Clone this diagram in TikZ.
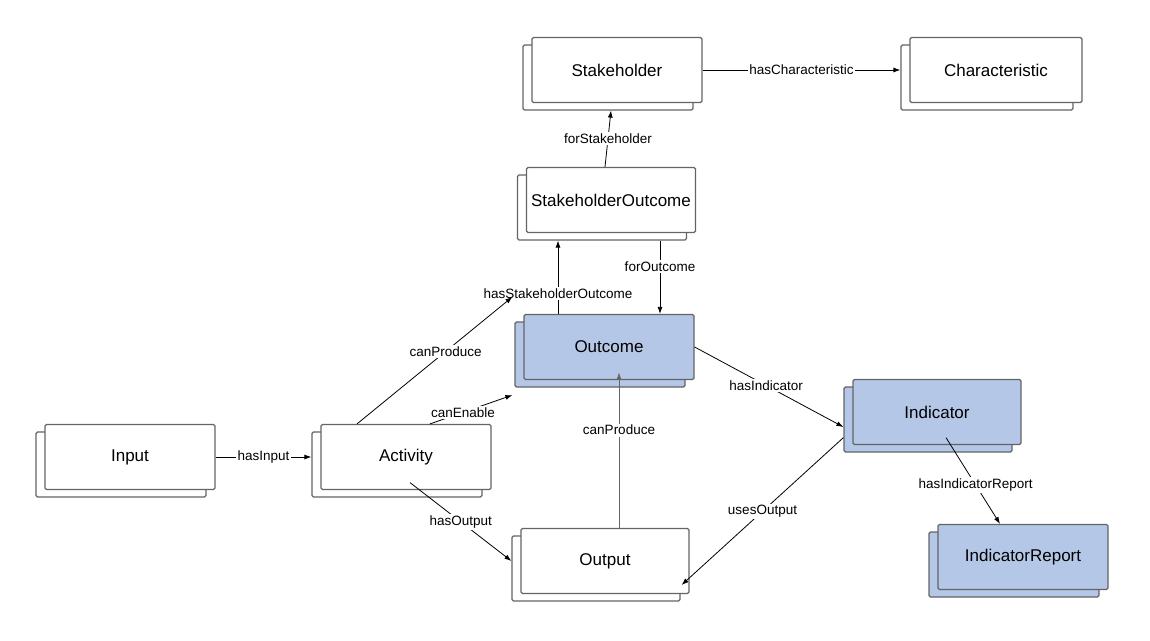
\documentclass[tikz,border=0pt]{standalone}
\usepackage{fontspec}
\setmainfont{Liberation Sans}
\definecolor{BoxBlue}{RGB}{180, 199, 231}
\definecolor{BoxLine}{RGB}{100, 100, 100}
\usetikzlibrary{arrows.meta, shadows, calc}

\tikzset{
  cls/.style={draw=BoxLine, line width=1.2pt, fill=white, rounded corners=1.5pt,
    minimum width=170pt, minimum height=65pt, font=\fontsize{17}{20}\selectfont,
    copy shadow={shadow xshift=-9pt, shadow yshift=-7.5pt}},
  core/.style={cls, fill=BoxBlue},
  rel/.style={-{Latex[length=7pt, width=5pt]}, line width=0.8pt},
  lbl/.style={fill=white, inner sep=1.5pt, font=\fontsize{13.5}{16}\selectfont}
}

\begin{document}
\begin{tikzpicture}[x=1pt, y=-1pt]
  \useasboundingbox (0,0) rectangle (1150,640);

  % Classes
  \node[cls] (stake) at (617,70) {Stakeholder};
  \node[cls, minimum width=172pt] (charac) at (996,70) {Characteristic};
  \node[cls, minimum width=169pt] (stout) at (611,200) {StakeholderOutcome};
  \node[core] (outc) at (609,347) {Outcome};
  \node[core, minimum width=168pt] (indic) at (937,412) {Indicator};
  \node[cls] (inp) at (130,457) {Input};
  \node[cls] (act) at (406,457) {Activity};
  \node[cls, minimum width=168pt] (outp) at (605,561) {Output};
  \node[core] (report) at (1023,557) {IndicatorReport};

  % Relations
  \draw[rel] (stake.east) -- ([xshift=-9pt]charac.west)
    node[lbl, midway] {hasCharacteristic};
  \draw[rel] ([xshift=-6pt]stout.north) -- ([xshift=-6pt, yshift=-7.5pt]stake.south)
    node[lbl, midway] {forStakeholder};
  \draw[rel] ([xshift=-51pt]outc.north) -- ([xshift=-53pt, yshift=-7.5pt]stout.south)
    node[lbl, pos=0.28] {hasStakeholderOutcome};
  \draw[rel] ([xshift=49pt, yshift=-7.5pt]stout.south) -- ([xshift=51pt]outc.north)
    node[lbl, pos=0.35] {forOutcome};
  \draw[rel] ([xshift=-49pt]act.north) -- ([xshift=-11pt, yshift=17pt]outc.north west)
    node[lbl, pos=0.57] {canProduce};
  \draw[rel] ([xshift=24pt]act.north) -- ([xshift=-11pt, yshift=-15pt]outc.south west)
    node[lbl, pos=0.4] {canEnable};
  \draw[rel] (inp.east) -- ([xshift=-9pt]act.west)
    node[lbl, midway] {hasInput};
  \draw[rel] ([xshift=4pt, yshift=7.5pt]act.south) -- ([xshift=-9pt]outp.west)
    node[lbl, pos=0.5] {hasOutput};
  \draw[rel, draw=BoxLine, line width=0.6pt] ([xshift=14pt]outp.north) -- ([xshift=10pt, yshift=7.5pt]outc.south)
    node[lbl, pos=0.63] {canProduce};
  \draw[rel] (outc.east) -- ([xshift=-9pt, yshift=-15pt]indic.west)
    node[lbl, pos=0.48] {hasIndicator};
  \draw[rel] ([xshift=-9pt, yshift=7.5pt]indic.south west) -- ([xshift=-8pt, yshift=-24pt]outp.east)
    node[lbl, midway] {usesOutput};
  \draw[rel] ([xshift=9pt, yshift=7.5pt]indic.south) -- ([xshift=-23pt]report.north)
    node[lbl, pos=0.55] {hasIndicatorReport};
\end{tikzpicture}
\end{document}
